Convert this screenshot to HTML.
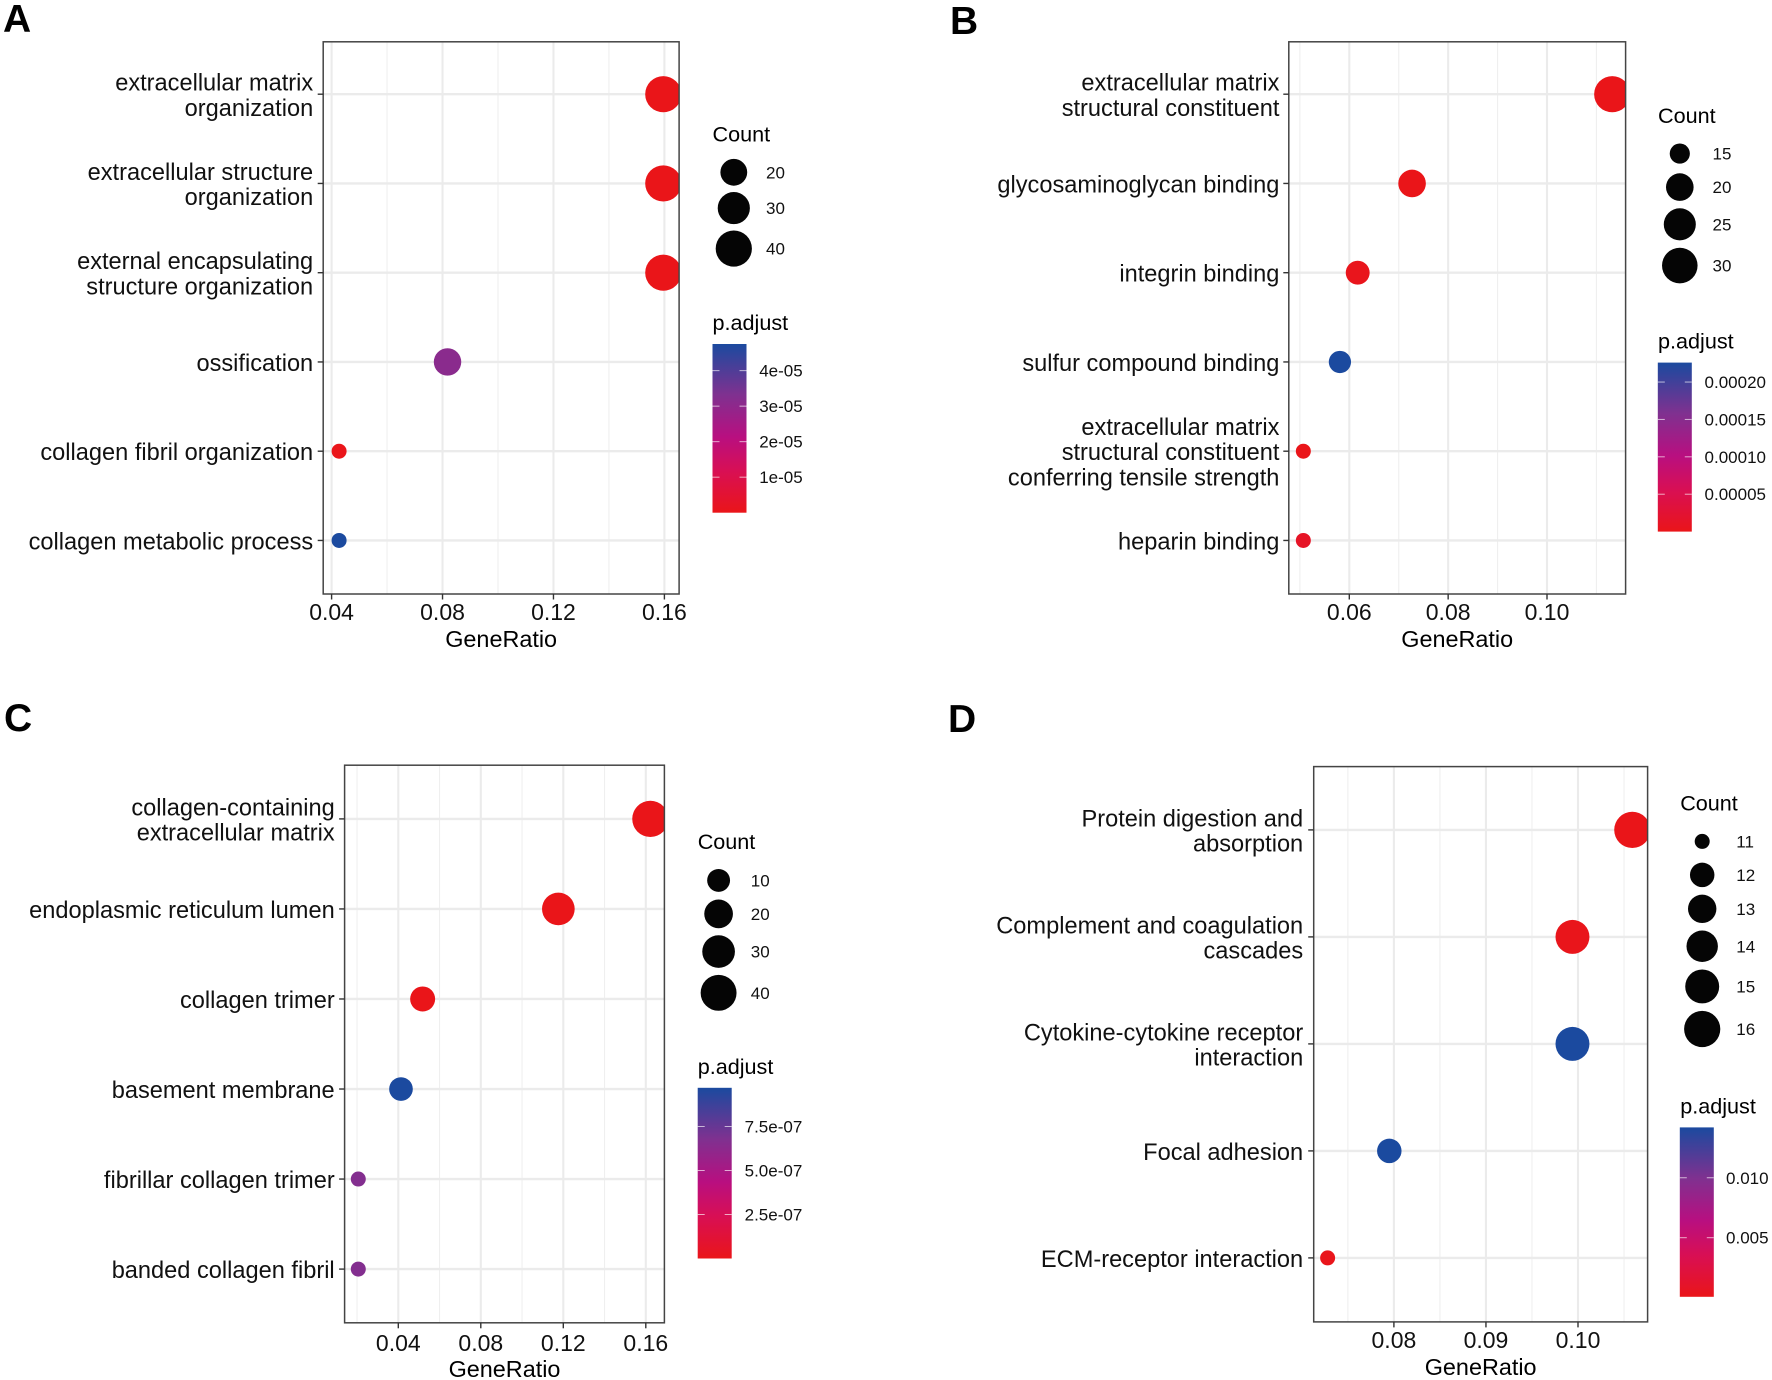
<!DOCTYPE html>
<html lang="en">
<head>
<meta charset="utf-8">
<title>GO and KEGG enrichment dot plots</title>
<style>
html,body{margin:0;padding:0;background:#fff;}
#figure{display:block;width:1772px;height:1380px;font-family:"Liberation Sans",Arial,sans-serif;}
</style>
</head>
<body>
<svg id="figure" xmlns="http://www.w3.org/2000/svg" width="1772" height="1380" viewBox="0 0 1772 1380">
  <defs>
    <linearGradient id="padj-gradient" x1="0" y1="1" x2="0" y2="0">
      <stop offset="0" stop-color="#ea1519"/>
      <stop offset="0.25" stop-color="#d80f55"/>
      <stop offset="0.45" stop-color="#b80f80"/>
      <stop offset="0.7" stop-color="#7f3190"/>
      <stop offset="1" stop-color="#1b4a9f"/>
    </linearGradient>
  </defs>
</svg>
<script>
// Panel A data
const categoriesA = ["extracellular matrix\norganization","extracellular structure\norganization","external encapsulating\nstructure organization","ossification","collagen fibril organization","collagen metabolic process"];
const ratiosA = [0.1596,0.1596,0.1596,0.0818,0.0427,0.0427];
const countsA = [40,40,40,21,11,11];
const padjA = [0.0000000001,0.0000000001,0.0000000001,0.000031,0.0000002,0.0000475];
const xTicksA = [0.04,0.08,0.12,0.16];
const xMinorA = [0.06,0.10,0.14];
const xLabelsA = ["0.04","0.08","0.12","0.16"];
const legendCountsA = [20,30,40];
const barTicksA = [0.00001,0.00002,0.00003,0.00004];
const barLabelsA = ["1e-05","2e-05","3e-05","4e-05"];

// Panel B data
const categoriesB = ["extracellular matrix\nstructural constituent","glycosaminoglycan binding","integrin binding","sulfur compound binding","extracellular matrix\nstructural constituent\nconferring tensile strength","heparin binding"];
const ratiosB = [0.1132,0.0727,0.0617,0.0581,0.0507,0.0507];
const countsB = [31,20,17,16,14,14];
const padjB = [0.000000001,0.000000002,0.000003,0.000226,0.0000003,0.000012];
const xTicksB = [0.06,0.08,0.10];
const xMinorB = [0.05,0.07,0.09,0.11];
const xLabelsB = ["0.06","0.08","0.10"];
const legendCountsB = [15,20,25,30];
const barTicksB = [0.00005,0.0001,0.00015,0.0002];
const barLabelsB = ["0.00005","0.00010","0.00015","0.00020"];

// Panel C data
const categoriesC = ["collagen-containing\nextracellular matrix","endoplasmic reticulum lumen","collagen trimer","basement membrane","fibrillar collagen trimer","banded collagen fibril"];
const ratiosC = [0.1622,0.1176,0.0518,0.0413,0.0206,0.0206];
const countsC = [41,30,13,11,5,5];
const padjC = [0.000000000001,0.000000000002,0.000000001,0.00000097,0.00000066,0.00000066];
const xTicksC = [0.04,0.08,0.12,0.16];
const xMinorC = [0.02,0.06,0.10,0.14];
const xLabelsC = ["0.04","0.08","0.12","0.16"];
const legendCountsC = [10,20,30,40];
const barTicksC = [0.00000025,0.0000005,0.00000075];
const barLabelsC = ["2.5e-07","5.0e-07","7.5e-07"];

// Panel D data
const categoriesD = ["Protein digestion and\nabsorption","Complement and coagulation\ncascades","Cytokine-cytokine receptor\ninteraction","Focal adhesion","ECM-receptor interaction"];
const ratiosD = [0.1059,0.0994,0.0994,0.0795,0.0728];
const countsD = [16,15,15,12,11];
const padjD = [0.00007,0.0002,0.0142,0.0142,0.0002];
const xTicksD = [0.08,0.09,0.10];
const xMinorD = [0.075,0.085,0.095,0.105];
const xLabelsD = ["0.08","0.09","0.10"];
const legendCountsD = [11,12,13,14,15,16];
const barTicksD = [0.005,0.010];
const barLabelsD = ["0.005","0.010"];

const NS = "http://www.w3.org/2000/svg";
const svg = document.getElementById("figure");

function make(parent, tag, attrs, text) {
  const el = document.createElementNS(NS, tag);
  for (const k in attrs) el.setAttribute(k, attrs[k]);
  if (text !== undefined) el.textContent = text;
  parent.appendChild(el);
  return el;
}

const colorStops = [
  [0, [234,21,25]], [0.25, [216,15,85]], [0.45, [184,15,128]], [0.7, [127,49,144]], [1, [27,74,159]]
];
function colorAt(t) {
  t = Math.max(0, Math.min(1, t));
  for (let i = 1; i < colorStops.length; i++) {
    if (t <= colorStops[i][0]) {
      const a = colorStops[i-1], b = colorStops[i];
      const f = (t - a[0]) / (b[0] - a[0]);
      const c = a[1].map((v, j) => Math.round(v + (b[1][j] - v) * f));
      return "rgb(" + c.join(",") + ")";
    }
  }
  return "rgb(27,74,159)";
}

function drawPanel(p) {
  const g = document.createElementNS(NS, "g");
  
  
  svg.appendChild(g);

  const xScale = v => p.px0 + (v - p.x0) / (p.x1 - p.x0) * (p.px1 - p.px0);
  const yScale = i => p.yTop + i * p.yStep;
  const minCount = Math.min(...p.counts);
  const maxCount = Math.max(...p.counts);
  const rScale = c => 7.5 + 10.6 * Math.sqrt(Math.max(0, (c - minCount) / (maxCount - minCount)));
  const colorScale = v => colorAt((v - p.padjMin) / (p.padjMax - p.padjMin));

  const letter = make(g, "text", {x: p.letterX, y: p.letterY, "font-size": 39, "font-weight": "bold", fill: "#000"}, p.id);
  
  

  const bg = make(g, "rect", {x: p.L, y: p.T, width: p.R - p.L, height: p.B - p.T, fill: "#fff"});
  
  

  p.xMinor.forEach(v => {
    const line = make(g, "line", {x1: xScale(v), x2: xScale(v), y1: p.T, y2: p.B, stroke: "#efefef", "stroke-width": 1.1});
    
    
  });
  p.xTicks.forEach(v => {
    const line = make(g, "line", {x1: xScale(v), x2: xScale(v), y1: p.T, y2: p.B, stroke: "#ebebeb", "stroke-width": 2.1});
    
    
  });
  p.categories.forEach((c, i) => {
    const line = make(g, "line", {x1: p.L, x2: p.R, y1: yScale(i), y2: yScale(i), stroke: "#ebebeb", "stroke-width": 2.4});
    
    
  });

  const clipId = "clip-" + p.id;
  const clip = make(svg.querySelector("defs"), "clipPath", {id: clipId});
  make(clip, "rect", {x: p.L, y: p.T, width: p.R - p.L, height: p.B - p.T});

  const dots = make(g, "g", {"clip-path": "url(#" + clipId + ")"});
  
  
  p.ratios.forEach((v, i) => {
    const dot = make(dots, "circle", {cx: xScale(v), cy: yScale(i), r: rScale(p.counts[i]), fill: colorScale(p.padj[i])});
    
    
  });

  const border = make(g, "rect", {x: p.L, y: p.T, width: p.R - p.L, height: p.B - p.T, fill: "none", stroke: "#444", "stroke-width": 1.5});
  
  

  p.categories.forEach((c, i) => {
    const tick = make(g, "line", {x1: p.L - 5.5, x2: p.L, y1: yScale(i), y2: yScale(i), stroke: "#333", "stroke-width": 1.4});
    
    
    const lines = c.split("\n");
    const label = make(g, "text", {"text-anchor": "end", "font-size": 23.6, fill: "#111"});
    
    
    lines.forEach((t, j) => {
      make(label, "tspan", {x: p.labelR + 0.8, y: yScale(i) + 9 + (j - (lines.length - 1) / 2) * 25.2}, t);
    });
  });

  p.xTicks.forEach((v, i) => {
    const tick = make(g, "line", {x1: xScale(v), x2: xScale(v), y1: p.B, y2: p.B + 5.5, stroke: "#333", "stroke-width": 1.4});
    
    
    const label = make(g, "text", {x: xScale(v), y: p.B + p.tickDy, "text-anchor": "middle", "font-size": 23, fill: "#111"}, p.xLabels[i]);
    
    
  });

  const axisTitle = make(g, "text", {x: (p.L + p.R) / 2, y: p.B + p.titleDy, "text-anchor": "middle", "font-size": 23.4, fill: "#000"}, "GeneRatio");
  
  

  const countTitle = make(g, "text", {x: p.legX, y: p.countTitleY, "font-size": 21.6, fill: "#000"}, "Count");
  
  

  let ky = p.keyY;
  p.legendCounts.forEach((c, i) => {
    if (i > 0) {
      const step = rScale(p.legendCounts[i-1]) + rScale(c) + p.keyPad;
      ky += Math.max(33.5, step);
    }
    const key = make(g, "circle", {cx: p.keyX, cy: ky, r: rScale(c), fill: "#050505"});
    
    
    const label = make(g, "text", {x: p.keyLabelX, y: ky + 6, "font-size": 17, fill: "#111"}, String(c));
    
    
  });

  const padjTitle = make(g, "text", {x: p.legX, y: p.barTop - 14, "font-size": 21.6, fill: "#000"}, "p.adjust");
  
  

  const bar = make(g, "rect", {x: p.barL, y: p.barTop, width: 34, height: p.barBottom - p.barTop, fill: "url(#padj-gradient)"});
  
  

  const barScale = v => p.barBottom - (v - p.padjMin) / (p.padjMax - p.padjMin) * (p.barBottom - p.barTop);
  p.barTicks.forEach((v, i) => {
    const y = barScale(v);
    const left = make(g, "line", {x1: p.barL, x2: p.barL + 7, y1: y, y2: y, stroke: "#fff", "stroke-opacity": 0.65, "stroke-width": 1});
    
    
    const right = make(g, "line", {x1: p.barL + 27, x2: p.barL + 34, y1: y, y2: y, stroke: "#fff", "stroke-opacity": 0.65, "stroke-width": 1});
    
    
    const label = make(g, "text", {x: p.barLabelR, y: y + 6, "text-anchor": "end", "font-size": 17, fill: "#111"}, p.barLabels[i]);
    
    
  });
}

drawPanel({
  id: "A", letterX: 3, letterY: 32,
  L: 323.2, R: 679.1, T: 41.8, B: 594,
  x0: 0.04, px0: 331.6, x1: 0.16, px1: 664.4,
  yTop: 94.2, yStep: 89.25, labelR: 312.4, tickDy: 26, titleDy: 53,
  categories: categoriesA, ratios: ratiosA, counts: countsA, padj: padjA,
  xTicks: xTicksA, xMinor: xMinorA, xLabels: xLabelsA,
  legendCounts: legendCountsA, barTicks: barTicksA, barLabels: barLabelsA,
  padjMin: 0, padjMax: 0.0000475,
  legX: 712.5, countTitleY: 141.7, keyX: 733.8, keyY: 172.3, keyPad: 6.3, keyLabelX: 766,
  barL: 712.5, barTop: 344, barBottom: 512.7, barLabelR: 802.7
});
drawPanel({
  id: "B", letterX: 950, letterY: 34,
  L: 1288.8, R: 1625.6, T: 41.8, B: 594,
  x0: 0.06, px0: 1349.3, x1: 0.10, px1: 1547,
  yTop: 94.2, yStep: 89.25, labelR: 1278.6, tickDy: 26, titleDy: 53,
  categories: categoriesB, ratios: ratiosB, counts: countsB, padj: padjB,
  xTicks: xTicksB, xMinor: xMinorB, xLabels: xLabelsB,
  legendCounts: legendCountsB, barTicks: barTicksB, barLabels: barLabelsB,
  padjMin: 0, padjMax: 0.000226,
  legX: 1658, countTitleY: 122.8, keyX: 1679.8, keyY: 153.6, keyPad: 7.4, keyLabelX: 1712.5,
  barL: 1657.8, barTop: 362.6, barBottom: 531.6, barLabelR: 1766
});
drawPanel({
  id: "C", letterX: 4, letterY: 731,
  L: 344.6, R: 664.4, T: 765.2, B: 1322.8,
  x0: 0.04, px0: 398.3, x1: 0.16, px1: 645.8,
  yTop: 818.9, yStep: 90.04, labelR: 333.9, tickDy: 28, titleDy: 54,
  categories: categoriesC, ratios: ratiosC, counts: countsC, padj: padjC,
  xTicks: xTicksC, xMinor: xMinorC, xLabels: xLabelsC,
  legendCounts: legendCountsC, barTicks: barTicksC, barLabels: barLabelsC,
  padjMin: 0, padjMax: 0.00000097,
  legX: 697.7, countTitleY: 849, keyX: 718.6, keyY: 880.4, keyPad: 7, keyLabelX: 750.8,
  barL: 697.7, barTop: 1087.8, barBottom: 1258.5, barLabelR: 802.3
});
drawPanel({
  id: "D", letterX: 948, letterY: 732,
  L: 1313.7, R: 1647.6, T: 766.6, B: 1321.9,
  x0: 0.08, px0: 1393.9, x1: 0.10, px1: 1578,
  yTop: 829.9, yStep: 107, labelR: 1302.4, tickDy: 26, titleDy: 53,
  categories: categoriesD, ratios: ratiosD, counts: countsD, padj: padjD,
  xTicks: xTicksD, xMinor: xMinorD, xLabels: xLabelsD,
  legendCounts: legendCountsD, barTicks: barTicksD, barLabels: barLabelsD,
  padjMin: 0.00007, padjMax: 0.0142,
  legX: 1680.2, countTitleY: 810.5, keyX: 1702.2, keyY: 841.4, keyPad: 7.5, keyLabelX: 1736.3,
  barL: 1679.8, barTop: 1127.4, barBottom: 1296.8, barLabelR: 1768.6
});
</script>
</body>
</html>
